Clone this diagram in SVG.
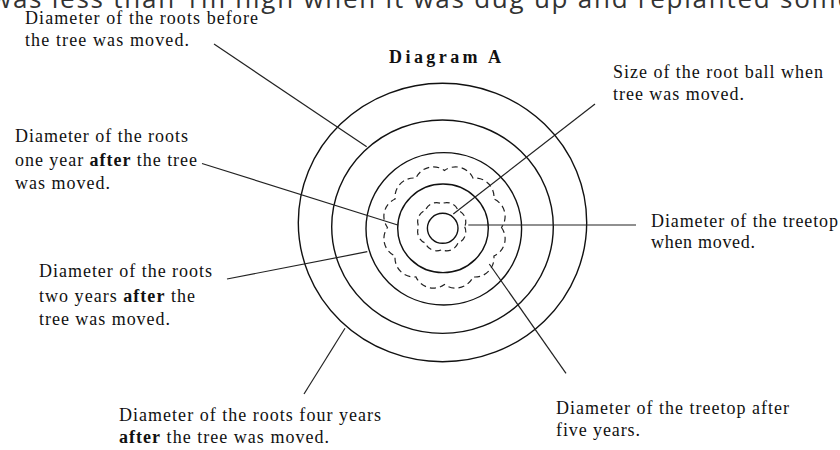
<svg xmlns="http://www.w3.org/2000/svg" width="840" height="450" viewBox="0 0 840 450">
<style>
.lbl{font-family:"Liberation Serif","Times New Roman",serif;font-size:18px;fill:#111}
.b{font-weight:bold}
.ring{fill:none;stroke:#111;stroke-width:1.4}
.dash{fill:none;stroke:#222;stroke-width:1.2;stroke-dasharray:6 4}
.ln{fill:none;stroke:#222;stroke-width:1.2}
.top{font-family:"Open Sans","Noto Sans",sans-serif;font-size:26px;fill:#333}
</style>
<rect width="840" height="450" fill="#fff"/>
<text class="top" x="-9" y="8" textLength="861" lengthAdjust="spacing">was less than 1m high when it was dug up and replanted some</text>
<g id="title"><text class="lbl b" x="389" y="63" font-size="20" textLength="112" lengthAdjust="spacing">Diagram A</text></g>
<g id="rings">
<ellipse class="ring" cx="442.5" cy="222.5" rx="144.2" ry="139.2"/>
<ellipse class="ring" cx="442.5" cy="226.7" rx="110.8" ry="106.7"/>
<ellipse class="ring" cx="443.8" cy="228.8" rx="77.8" ry="76.2"/>
<ellipse class="ring" cx="443" cy="228.3" rx="45.3" ry="44.3"/>
<ellipse class="ring" cx="442.7" cy="228.3" rx="15.3" ry="15"/>
<path class="dash" d="M501.5 227.5 A19 19 0 0 1 493.9 256 A19 19 0 0 1 473 276.9 A19 19 0 0 1 444.5 284.5 A19 19 0 0 1 416 276.9 A19 19 0 0 1 395.1 256 A19 19 0 0 1 387.5 227.5 A19 19 0 0 1 395.1 199 A19 19 0 0 1 416 178.1 A19 19 0 0 1 444.5 170.5 A19 19 0 0 1 473 178.1 A19 19 0 0 1 493.9 199 A19 19 0 0 1 501.5 227.5 Z"/>
<path class="dash" d="M464.7 226.7 A12 12 0 0 1 458 243 A12 12 0 0 1 441.7 249.7 A12 12 0 0 1 425.4 243 A12 12 0 0 1 418.7 226.7 A12 12 0 0 1 425.4 210.4 A12 12 0 0 1 441.7 203.7 A12 12 0 0 1 458 210.4 A12 12 0 0 1 464.7 226.7 Z"/>
</g>
<g id="connectors">
<line class="ln" x1="214" y1="44" x2="366.7" y2="146.7"/>
<line class="ln" x1="202" y1="163.5" x2="397.7" y2="225"/>
<line class="ln" x1="227" y1="279" x2="367.3" y2="251.7"/>
<line class="ln" x1="304" y1="394" x2="345" y2="328.3"/>
<line class="ln" x1="595" y1="104" x2="453.3" y2="214"/>
<line class="ln" x1="468.3" y1="225" x2="636" y2="225" stroke-width="2"/>
<line class="ln" x1="489.3" y1="264" x2="566" y2="373.3"/>
</g>
<g id="label-before">
<text class="lbl" x="25" y="24" textLength="233" lengthAdjust="spacing">Diameter of the roots before</text>
<text class="lbl" x="25" y="46" textLength="164" lengthAdjust="spacing">the tree was moved.</text>
</g>
<g id="label-one-year">
<text class="lbl" x="15" y="142" textLength="173" lengthAdjust="spacing">Diameter of the roots</text>
<text class="lbl" x="15" y="166" textLength="182" lengthAdjust="spacing">one year <tspan class="b">after</tspan> the tree</text>
<text class="lbl" x="15" y="189" textLength="95" lengthAdjust="spacing">was moved.</text>
</g>
<g id="label-two-years">
<text class="lbl" x="39" y="277" textLength="173" lengthAdjust="spacing">Diameter of the roots</text>
<text class="lbl" x="39" y="302" textLength="156" lengthAdjust="spacing">two years <tspan class="b">after</tspan> the</text>
<text class="lbl" x="39" y="325" textLength="131" lengthAdjust="spacing">tree was moved.</text>
</g>
<g id="label-four-years">
<text class="lbl" x="119" y="421" textLength="262" lengthAdjust="spacing">Diameter of the roots four years</text>
<text class="lbl" x="119" y="443" textLength="210" lengthAdjust="spacing"><tspan class="b">after</tspan> the tree was moved.</text>
</g>
<g id="label-root-ball">
<text class="lbl" x="613" y="78" textLength="210" lengthAdjust="spacing">Size of the root ball when</text>
<text class="lbl" x="613" y="100" textLength="131" lengthAdjust="spacing">tree was moved.</text>
</g>
<g id="label-treetop-moved">
<text class="lbl" x="651" y="226.5" textLength="187" lengthAdjust="spacing">Diameter of the treetop</text>
<text class="lbl" x="651" y="248" textLength="104" lengthAdjust="spacing">when moved.</text>
</g>
<g id="label-treetop-five">
<text class="lbl" x="556" y="414" textLength="233" lengthAdjust="spacing">Diameter of the treetop after</text>
<text class="lbl" x="556" y="436" textLength="84" lengthAdjust="spacing">five years.</text>
</g>
</svg>
